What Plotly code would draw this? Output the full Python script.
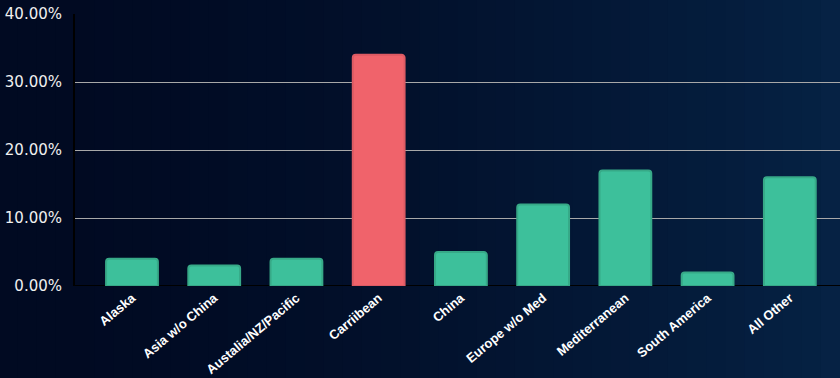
import plotly.graph_objects as go

categories = ["Alaska", "Asia w/o China", "Austalia/NZ/Pacific", "Carriibean", "China",
              "Europe w/o Med", "Mediterranean", "South America", "All Other"]
values = [0.04, 0.03, 0.04, 0.34, 0.05, 0.12, 0.17, 0.02, 0.16]
highlight = "Carriibean"
tick_vals = [0, 0.1, 0.2, 0.3, 0.4]
tick_text = ["0.00%", "10.00%", "20.00%", "30.00%", "40.00%"]

green = "#3dc09b"
red = "#f0636b"
colors = [red if c == highlight else green for c in categories]
line_colors = ["#dc5a63" if c == highlight else "#37a987" for c in categories]

fig = go.Figure()

# background gradient strips (paper coordinates)
n = 44
x_start = -0.1
step = (1 - x_start) / n
for i in range(n):
    t = i / (n - 1)
    r = int(1 + 5 * t ** 1.6)
    g = int(10 + 24 * t ** 1.6)
    b = int(34 + 34 * t ** 1.6)
    fig.add_shape(type="rect", xref="paper", yref="paper",
                  x0=x_start + i * step, x1=x_start + (i + 1) * step + 0.001, y0=-0.4, y1=1.1,
                  fillcolor=f"rgb({r},{g},{b})", line_width=0, layer="below")

fig.add_trace(go.Bar(
    x=list(range(len(categories))), y=values,
    marker=dict(color=colors, line=dict(color=line_colors, width=2), cornerradius=3),
    width=0.63,
))

fig.update_layout(
    width=840, height=378,
    margin=dict(l=75, r=0, t=14, b=92),
    paper_bgcolor="#020c24",
    plot_bgcolor="rgba(0,0,0,0)",
    showlegend=False,
    font=dict(family="Liberation Sans, Arial, sans-serif", color="white"),
    xaxis=dict(
        range=[-0.693, 8.61],
        tickvals=list(range(len(categories))), ticktext=categories,
        tickangle=-40, tickfont=dict(size=13, color="white", weight="bold"),
        showgrid=False, zeroline=False, showline=False, ticks="",
        ticklabelstandoff=1, automargin=False,
    ),
    yaxis=dict(
        range=[0, 0.4],
        tickvals=tick_vals, ticktext=tick_text,
        tickfont=dict(family="DejaVu Sans", size=15, color="#f0f0f0"),
        showgrid=True, gridcolor="#a8a8a8", gridwidth=1,
        zeroline=False, showline=True, linecolor="#000000", linewidth=2,
        ticks="", ticklabelstandoff=8, automargin=False,
    ),
)
fig.add_shape(type="line", xref="paper", yref="y", x0=0, x1=1, y0=0, y1=0,
              line=dict(color="#000000", width=2), layer="below")

fig.write_html("out.html", config={"displayModeBar": False},
               post_script="document.body.style.margin='0';document.body.style.overflow='hidden';")
